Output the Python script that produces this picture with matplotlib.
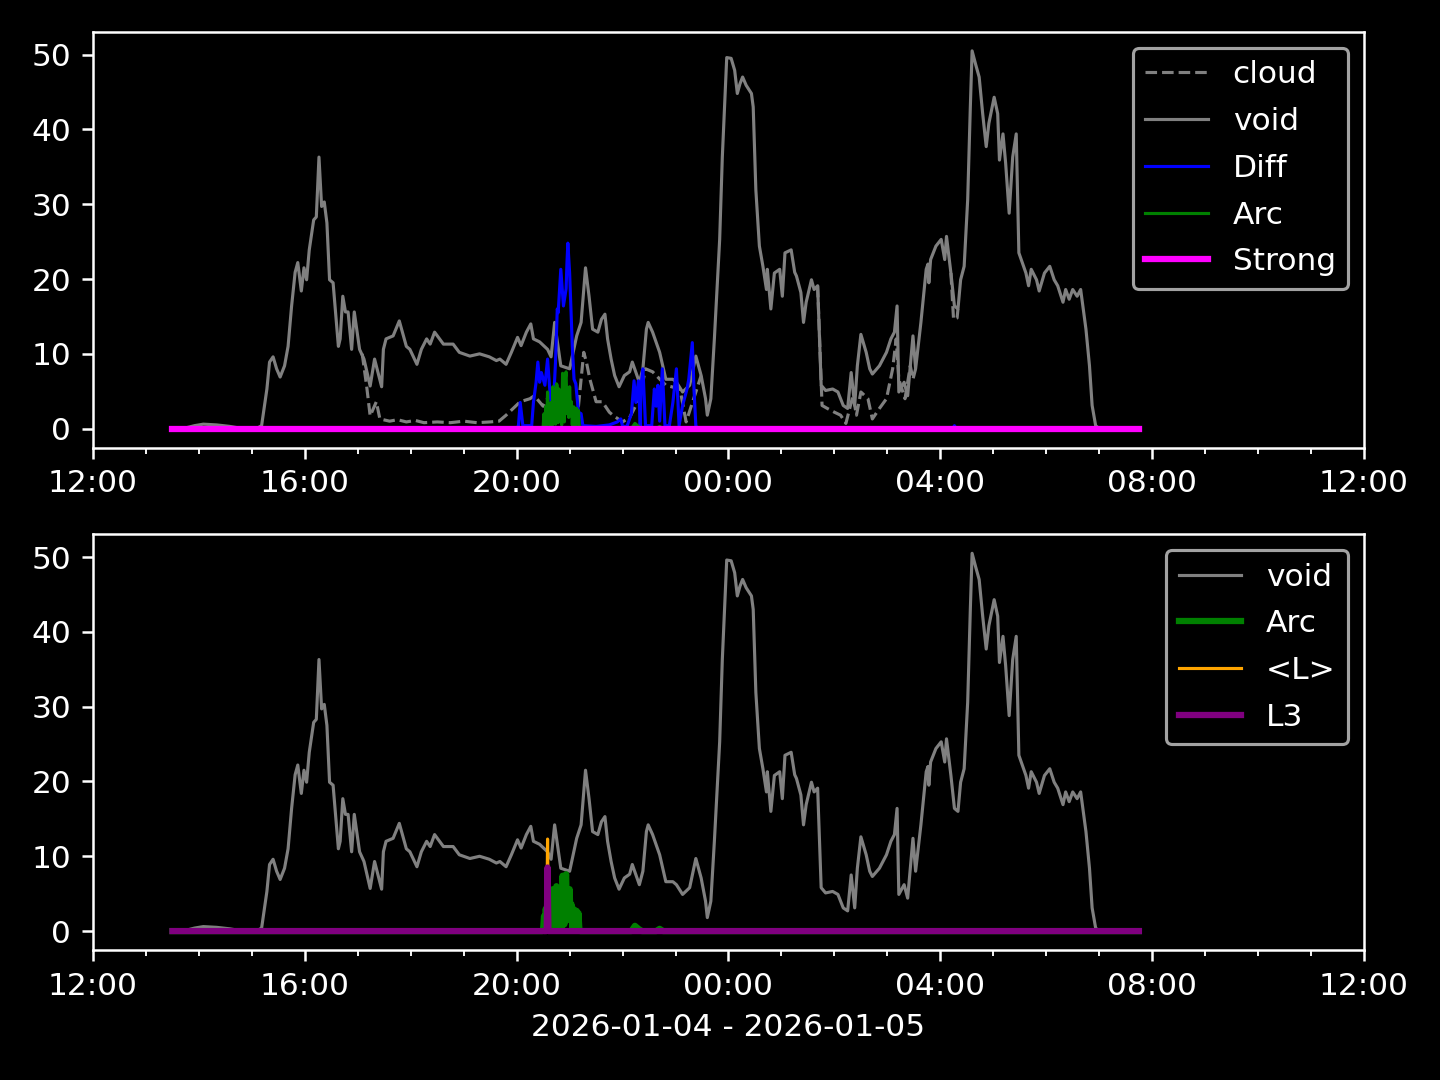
import matplotlib
matplotlib.use("Agg")
import matplotlib.pyplot as plt
import matplotlib.dates as mdates
import numpy as np
import pandas as pd

# (HH:MM, value); times >= 12:00 are 2026-01-04, earlier ones 2026-01-05
void = [
    ("13:30", 0.0), ("13:45", 0.1), ("13:55", 0.4), ("14:05", 0.6), ("14:20", 0.5), ("14:35", 0.3),
    ("14:50", 0.0), ("15:05", 0.0), ("15:11", 0.4), ("15:17", 5.3), ("15:20", 8.9), ("15:24", 9.6),
    ("15:28", 8.0), ("15:32", 6.9), ("15:37", 8.4), ("15:41", 11.0), ("15:45", 16.4), ("15:49", 20.9),
    ("15:52", 22.2), ("15:56", 18.4), ("15:59", 21.5), ("16:02", 19.9), ("16:05", 23.9), ("16:10", 27.9),
    ("16:13", 28.3), ("16:16", 36.3), ("16:19", 29.7), ("16:22", 30.3), ("16:25", 27.5), ("16:28", 19.9),
    ("16:32", 19.5), ("16:38", 11.0), ("16:40", 12.0), ("16:43", 17.7), ("16:46", 15.6), ("16:49", 15.6),
    ("16:53", 10.6), ("16:56", 15.6), ("17:02", 10.6), ("17:07", 9.3), ("17:14", 5.7), ("17:19", 9.3),
    ("17:27", 5.6), ("17:29", 10.6), ("17:32", 12.0), ("17:40", 12.4), ("17:47", 14.4), ("17:55", 11.0),
    ("17:59", 10.6), ("18:07", 8.6), ("18:12", 10.6), ("18:18", 12.0), ("18:22", 11.3), ("18:27", 12.9),
    ("18:37", 11.3), ("18:48", 11.3), ("18:55", 10.2), ("19:07", 9.7), ("19:18", 10.0), ("19:29", 9.6),
    ("19:37", 9.1), ("19:41", 9.3), ("19:48", 8.6), ("19:54", 10.2), ("20:01", 12.2), ("20:05", 11.1),
    ("20:11", 12.9), ("20:16", 14.0), ("20:19", 12.0), ("20:26", 11.6), ("20:35", 10.6), ("20:39", 9.6),
    ("20:43", 14.2), ("20:50", 8.4), ("21:00", 8.0), ("21:08", 12.4), ("21:13", 14.2), ("21:18", 21.5),
    ("21:22", 17.7), ("21:26", 13.3), ("21:32", 12.9), ("21:36", 14.6), ("21:40", 15.3), ("21:43", 12.0),
    ("21:47", 9.3), ("21:51", 7.1), ("21:56", 5.6), ("22:02", 7.1), ("22:08", 7.6), ("22:11", 8.9),
    ("22:19", 6.2), ("22:23", 8.0), ("22:27", 13.3), ("22:29", 14.2), ("22:34", 12.9), ("22:42", 10.2),
    ("22:49", 6.6), ("22:57", 6.6), ("23:01", 6.2), ("23:08", 4.9), ("23:16", 5.8), ("23:20", 8.0),
    ("23:23", 9.7), ("23:29", 7.1), ("23:34", 4.0), ("23:36", 1.8), ("23:40", 4.0), ("23:44", 12.0),
    ("23:50", 25.3), ("23:53", 36.3), ("23:58", 49.6), ("00:03", 49.5), ("00:07", 47.9), ("00:10", 44.8),
    ("00:13", 46.1), ("00:16", 47.0), ("00:20", 45.9), ("00:26", 44.8), ("00:28", 43.0), ("00:31", 31.9),
    ("00:35", 24.4), ("00:39", 21.7), ("00:43", 18.6), ("00:44", 21.3), ("00:48", 16.0), ("00:52", 20.8),
    ("00:58", 21.3), ("01:01", 17.7), ("01:04", 23.5), ("01:11", 23.9), ("01:15", 20.9), ("01:17", 20.4),
    ("01:22", 18.2), ("01:25", 14.2), ("01:28", 16.9), ("01:34", 19.9), ("01:37", 18.6), ("01:41", 19.1),
    ("01:45", 5.8), ("01:50", 5.1), ("01:58", 5.3), ("02:04", 4.9), ("02:10", 3.1), ("02:15", 2.7),
    ("02:19", 7.5), ("02:23", 3.1), ("02:26", 8.4), ("02:30", 12.6), ("02:36", 10.2), ("02:40", 8.0),
    ("02:43", 7.3), ("02:51", 8.4), ("02:59", 10.2), ("03:04", 12.0), ("03:08", 12.9), ("03:11", 16.4),
    ("03:13", 4.9), ("03:19", 6.2), ("03:23", 4.4), ("03:29", 12.4), ("03:32", 8.0), ("03:38", 14.2),
    ("03:44", 21.3), ("03:46", 22.0), ("03:47", 19.5), ("03:49", 22.6), ("03:55", 24.4), ("04:01", 25.3),
    ("04:05", 22.6), ("04:07", 25.7), ("04:12", 20.8), ("04:16", 16.4), ("04:20", 16.0), ("04:23", 19.9),
    ("04:27", 21.7), ("04:31", 30.6), ("04:34", 43.0), ("04:36", 50.5), ("04:40", 48.7), ("04:44", 47.0),
    ("04:48", 42.1), ("04:52", 37.7), ("04:55", 40.8), ("05:01", 44.3), ("05:05", 42.1), ("05:07", 35.9),
    ("05:11", 39.4), ("05:14", 35.5), ("05:18", 28.8), ("05:22", 36.3), ("05:26", 39.4), ("05:29", 23.5),
    ("05:37", 20.8), ("05:40", 19.1), ("05:43", 21.3), ("05:49", 19.9), ("05:52", 18.4), ("05:58", 20.8),
    ("06:04", 21.7), ("06:09", 19.9), ("06:13", 19.1), ("06:19", 16.9), ("06:22", 18.6), ("06:26", 17.3),
    ("06:30", 18.6), ("06:35", 17.7), ("06:39", 18.6), ("06:45", 13.3), ("06:49", 8.4), ("06:52", 3.1),
    ("06:56", 0.4), ("07:00", 0.0), ("07:45", 0.0),
]

# cloud only where it leaves the void curve; None = gap
cloud = [
    ("17:05", 10.0), ("17:10", 5.7), ("17:14", 1.7), ("17:21", 3.6), ("17:25", 1.3), ("17:36", 1.0),
    ("17:45", 1.2), ("17:55", 0.9), ("18:05", 1.1), ("18:15", 0.8), ("18:30", 0.9), ("18:45", 0.8),
    ("19:00", 1.0), ("19:15", 0.8), ("19:30", 0.9), ("19:40", 1.0), ("19:48", 1.8), ("19:56", 2.7),
    ("20:04", 3.6), ("20:15", 4.0), ("20:20", 4.4), ("20:30", 3.0), ("20:40", 5.0), ("20:50", 3.5),
    ("21:00", 2.0), ("21:10", 3.0), ("21:16", 10.2), ("21:19", 8.9), ("21:23", 6.6), ("21:30", 3.6),
    ("21:37", 3.6), ("21:45", 2.2), ("21:50", 1.7), ("22:00", 0.9), ("22:08", 1.5), ("22:19", 4.0),
    ("22:26", 8.0), ("22:34", 7.6), ("22:49", 5.8), ("23:05", 5.3), ("23:12", 0.9), ("23:23", 4.9),
    ("23:29", 7.1), ("23:30", None),
    ("01:41", 19.1), ("01:46", 3.1), ("01:52", 2.7), ("02:00", 2.2), ("02:07", 1.8), ("02:13", 0.7),
    ("02:21", 4.4), ("02:25", 1.8), ("02:30", 4.9), ("02:38", 4.0), ("02:43", 1.3), ("02:51", 2.7),
    ("02:59", 4.0), ("03:06", 8.0), ("03:10", 12.0), ("03:13", 6.6), ("03:20", 4.0), ("03:26", 8.4),
    ("03:29", 6.6), ("03:32", 8.0), ("03:33", None),
    ("04:12", 20.8), ("04:15", 14.6), ("04:19", 14.8), ("04:20", 16.0),
]

diff = [
    ("13:30", 0.0), ("20:00", 0.0), ("20:02", 0.4), ("20:04", 3.5), ("20:07", 0.4), ("20:17", 0.4),
    ("20:19", 3.5), ("20:22", 6.2), ("20:24", 8.9), ("20:26", 6.2), ("20:28", 7.5), ("20:32", 5.8),
    ("20:35", 9.3), ("20:38", 4.4), ("20:41", 1.8), ("20:44", 8.9), ("20:46", 16.0), ("20:47", 15.5),
    ("20:50", 21.3), ("20:53", 16.4), ("20:56", 18.7), ("20:57", 22.2), ("20:58", 24.8), ("21:00", 20.8),
    ("21:03", 11.1), ("21:05", 6.6), ("21:07", 6.0), ("21:10", 2.2), ("21:13", 2.0), ("21:15", 0.4),
    ("21:30", 0.3), ("21:45", 0.5), ("21:54", 0.9), ("21:58", 1.3), ("22:00", 0.3), ("22:05", 0.3),
    ("22:10", 2.0), ("22:13", 6.4), ("22:15", 3.5), ("22:18", 6.4), ("22:20", 0.4), ("22:21", 5.8),
    ("22:23", 8.0), ("22:26", 0.4), ("22:33", 0.4), ("22:36", 5.3), ("22:38", 3.0), ("22:40", 5.8),
    ("22:42", 1.0), ("22:45", 8.0), ("22:48", 0.4), ("22:53", 0.4), ("22:57", 3.5), ("23:01", 8.0),
    ("23:04", 0.4), ("23:08", 3.1), ("23:13", 5.3), ("23:15", 6.6), ("23:19", 11.5), ("23:21", 5.0),
    ("23:23", 0.4), ("23:25", 0.0), ("04:14", 0.0), ("04:16", 0.4), ("04:18", 0.0), ("07:45", 0.0),
]

arc = [
    ("13:30", 0.0), ("20:29", 0.0), ("20:30", 0.3), ("20:31", 2.0), ("20:32", 0.0), ("20:33", 3.0),
    ("20:34", 0.5), ("20:35", 4.9), ("20:36", 1.0), ("20:37", 1.3), ("20:38", 0.2), ("20:39", 3.5),
    ("20:40", 0.4), ("20:41", 5.6), ("20:42", 1.0), ("20:43", 5.2), ("20:44", 0.6), ("20:45", 6.0),
    ("20:46", 5.8), ("20:47", 0.8), ("20:48", 5.3), ("20:49", 1.2), ("20:50", 4.0), ("20:51", 0.5),
    ("20:52", 7.4), ("20:53", 4.9), ("20:54", 0.9), ("20:55", 6.5), ("20:56", 7.6), ("20:57", 2.0),
    ("20:58", 5.5), ("20:59", 1.5), ("21:00", 5.6), ("21:01", 1.8), ("21:02", 3.6), ("21:03", 0.5),
    ("21:04", 2.9), ("21:05", 2.9), ("21:06", 0.4), ("21:07", 2.6), ("21:08", 2.7), ("21:09", 0.6),
    ("21:10", 2.4), ("21:11", 0.3), ("21:12", 0.0), ("22:10", 0.0), ("22:14", 0.7), ("22:18", 0.3),
    ("22:22", 0.0), ("22:38", 0.0), ("22:42", 0.3), ("22:46", 0.0), ("07:45", 0.0),
]

strong = [("13:30", 0.0), ("07:45", 0.0)]
l_mean = [("13:30", 0.0), ("20:34", 0.0), ("20:35", 12.3), ("20:36", 0.0), ("07:45", 0.0)]
l3 = [("13:30", 0.0), ("20:34", 0.0), ("20:35", 8.5), ("20:36", 0.0), ("07:45", 0.0)]


def to_xy(pairs):
    times, values = [], []
    for hhmm, v in pairs:
        day = "2026-01-04" if int(hhmm[:2]) >= 12 else "2026-01-05"
        times.append(np.datetime64(f"{day}T{hhmm}"))
        values.append(np.nan if v is None else v)
    return np.array(times), np.array(values, dtype=float)


plt.style.use("dark_background")
fig, (ax1, ax2) = plt.subplots(2, 1, figsize=(6.4, 4.8), dpi=225)
fig.subplots_adjust(left=0.0646, right=0.9472, top=0.9704, bottom=0.1204, hspace=0.209)

ax1.plot(*to_xy(cloud), color="gray", ls="--", lw=1, label="cloud")
ax1.plot(*to_xy(void), color="gray", lw=1, label="void")
ax1.plot(*to_xy(diff), color="blue", lw=1, label="Diff")
ax1.plot(*to_xy(arc), color="green", lw=1, label="Arc")
ax1.plot(*to_xy(strong), color="magenta", lw=2, label="Strong")

ax2.plot(*to_xy(void), color="gray", lw=1, label="void")
ax2.plot(*to_xy(arc), color="green", lw=2, label="Arc")
ax2.plot(*to_xy(l_mean), color="orange", lw=1, label="<L>")
ax2.plot(*to_xy(l3), color="purple", lw=2, label="L3")

for ax in (ax1, ax2):
    ax.set_xlim(np.datetime64("2026-01-04T12:00"), np.datetime64("2026-01-05T12:00"))
    ax.xaxis.set_major_locator(mdates.HourLocator(byhour=range(0, 24, 4)))
    ax.xaxis.set_minor_locator(mdates.HourLocator())
    ax.xaxis.set_major_formatter(mdates.DateFormatter("%H:%M"))
    ax.legend(loc="upper right", labelspacing=0.57)

ax2.set_xlabel("2026-01-04 - 2026-01-05")
fig.savefig("out.png", dpi=225)
